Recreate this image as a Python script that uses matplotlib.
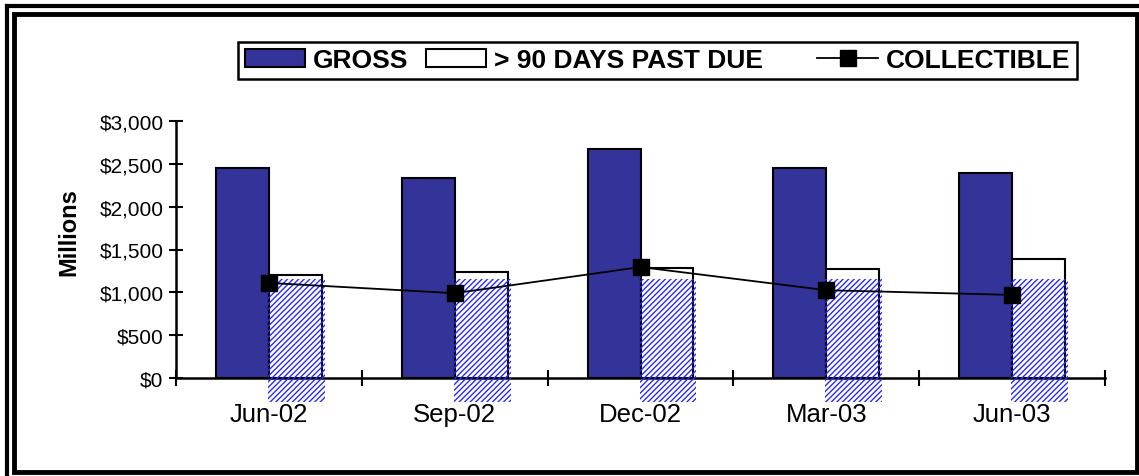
import numpy as np
import matplotlib.pyplot as plt
from matplotlib.patches import Rectangle
from matplotlib.lines import Line2D

# values (millions of dollars)
quarters = ['Jun-02', 'Sep-02', 'Dec-02', 'Mar-03', 'Jun-03']
gross = [2450, 2335, 2675, 2450, 2395]
past_due = [1200, 1235, 1285, 1270, 1390]
collectible = [1110, 990, 1295, 1025, 970]
y_ticks = [0, 500, 1000, 1500, 2000, 2500, 3000]

plt.rcParams['font.family'] = ['Liberation Sans', 'DejaVu Sans']

W, H = 1139, 477
fig = plt.figure(figsize=(W / 100, H / 100), dpi=100)
ax = fig.add_axes([176 / W, 1 - 379 / H, (1105 - 176) / W, (379 - 122) / H])

x = np.arange(len(quarters))
width = 0.285
navy = '#333399'

b1 = ax.bar(x - width / 2, gross, width, color=navy, edgecolor='black', linewidth=1.5,
            label='GROSS', zorder=2)
b2 = ax.bar(x + width / 2, past_due, width, color='white', edgecolor='black', linewidth=1.5,
            label='> 90 DAYS PAST DUE', zorder=2)

# blue hatched blocks that sit over the white bars in the original print
ax.bar(x + 0.148, 1436, 0.305, bottom=-280, fill=False, hatch='//////',
       edgecolor='#2a2aff', linewidth=0, clip_on=False, zorder=3)

ln, = ax.plot(x, collectible, color='black', linewidth=1.3, marker='s', markersize=11,
              label='COLLECTIBLE', zorder=4)

ax.set_xlim(-0.5, len(quarters) - 0.5)
ax.set_ylim(0, 3000)
ax.set_yticks(y_ticks)
ax.set_yticklabels([f'${v:,}' for v in y_ticks], fontsize=15)
ax.tick_params(axis='y', direction='inout', length=10, width=1.5, pad=4)

# ticks between categories, labels in the middle
ax.set_xticks(np.arange(-0.5, len(quarters), 1.0))
ax.set_xticklabels([])
ax.set_xticks(x, minor=True)
ax.set_xticklabels(quarters, minor=True, fontsize=18.5)
ax.tick_params(axis='x', which='major', direction='inout', length=12, width=1.5)
ax.tick_params(axis='x', which='minor', length=0, pad=17)

for side in ['top', 'right']:
    ax.spines[side].set_visible(False)
for side in ['left', 'bottom']:
    ax.spines[side].set_linewidth(1.8)

ax.set_ylabel('Millions', fontsize=17, fontweight='bold')
ax.yaxis.set_label_coords(-0.103, 0.57)

# trailing spaces widen the middle entry so the gaps match the original
leg = fig.legend([b1, b2, ln], ['GROSS', '> 90 DAYS PAST DUE     ', 'COLLECTIBLE'],
                 ncol=3, loc='lower left', mode='expand',
                 bbox_to_anchor=(238 / W, 1 - 80 / H, (1077 - 238) / W, 47 / H),
                 prop={'weight': 'bold', 'size': 19}, frameon=True, fancybox=False,
                 edgecolor='black', framealpha=1, handlelength=2.3, handleheight=0.65,
                 handletextpad=0.3, borderpad=0.25, borderaxespad=0)
leg.get_frame().set_linewidth(1.8)

# double frame around the whole chart
fig.add_artist(Line2D([6.5 / W, 6.5 / W], [0, 1 - 6.5 / H], color='black', linewidth=3,
                      transform=fig.transFigure))
fig.add_artist(Line2D([6.5 / W, 1], [1 - 6.5 / H, 1 - 6.5 / H], color='black', linewidth=3,
                      transform=fig.transFigure))
fig.add_artist(Rectangle((14 / W, 4 / H), (1137 - 14) / W, (H - 15 - 4) / H, fill=False,
                         edgecolor='black', linewidth=3.5, transform=fig.transFigure))

fig.savefig('out.png', dpi=100)
